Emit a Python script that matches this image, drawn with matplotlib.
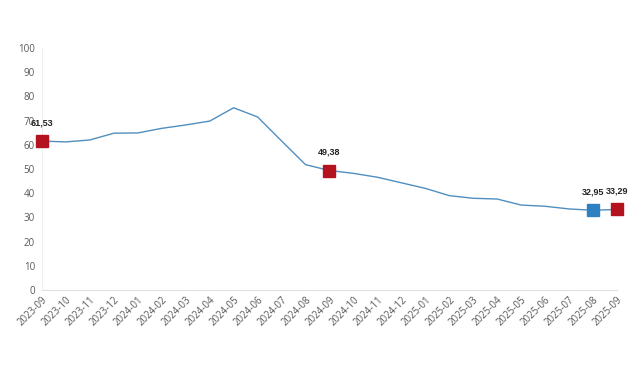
import matplotlib
matplotlib.use("Agg")
import matplotlib.pyplot as plt

# data
months = ["2023-09", "2023-10", "2023-11", "2023-12", "2024-01", "2024-02", "2024-03",
          "2024-04", "2024-05", "2024-06", "2024-07", "2024-08", "2024-09", "2024-10",
          "2024-11", "2024-12", "2025-01", "2025-02", "2025-03", "2025-04", "2025-05",
          "2025-06", "2025-07", "2025-08", "2025-09"]
values = [61.53, 61.2, 62.0, 64.8, 64.9, 66.8, 68.2, 69.8, 75.3, 71.5, 61.6, 51.8, 49.38,
          48.2, 46.6, 44.3, 42.0, 39.0, 37.9, 37.6, 35.1, 34.6, 33.5, 32.95, 33.29]
red_idx = [0, 12, 24]
blue_idx = [23]

plt.rcParams["font.family"] = ["Open Sans", "DejaVu Sans"]

fig = plt.figure(figsize=(6.41, 3.80), dpi=100)
ax = fig.add_axes([0.0655, 0.2368, 0.897, 0.6369])

x = list(range(len(months)))
ax.plot(x, values, color="#4f8fc0", lw=1.0, zorder=2)

for i in red_idx:
    ax.plot(x[i], values[i], marker="s", ms=8, color="#b3121e", mec="#b3121e",
            ls="none", clip_on=False, zorder=3)
for i in blue_idx:
    ax.plot(x[i], values[i], marker="s", ms=8, color="#2f80c0", mec="#2f80c0",
            ls="none", clip_on=False, zorder=3)

for i in red_idx + blue_idx:
    ax.annotate(f"{values[i]:.2f}".replace(".", ","), (x[i], values[i]),
                xytext=(0, 10), textcoords="offset points", ha="center", va="bottom",
                fontsize=6.5, fontweight="bold", color="#222222",
                family=["Liberation Sans", "DejaVu Sans"])

ax.set_xlim(0, 24)
ax.set_ylim(0, 100)
ax.set_yticks(range(0, 101, 10))
ax.set_xticks(x)
ax.set_xticklabels(months, rotation=45, ha="right", rotation_mode="anchor")
ax.tick_params(axis="both", length=0, labelsize=7, colors="#595959", pad=5)
ax.tick_params(axis="x", pad=3)

for s in ["top", "right"]:
    ax.spines[s].set_visible(False)
ax.spines["left"].set_color("#eeeeee")
ax.spines["bottom"].set_color("#e0e0e0")
ax.spines["left"].set_linewidth(0.8)
ax.spines["bottom"].set_linewidth(0.8)

fig.savefig("out.png", dpi=100)
